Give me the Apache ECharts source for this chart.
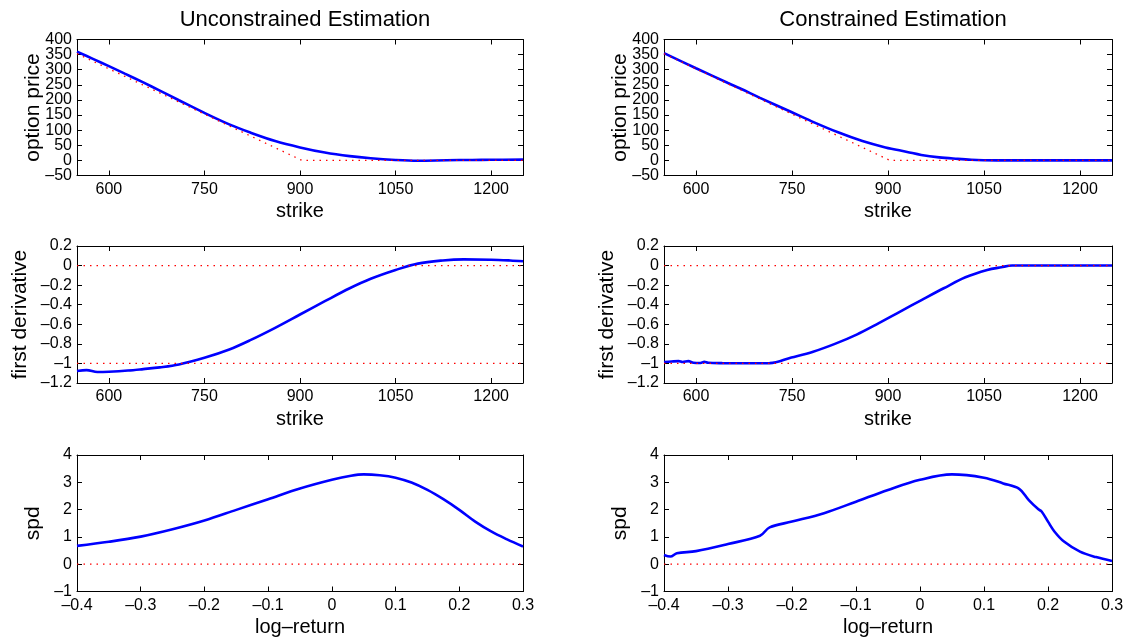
<!DOCTYPE html>
<html><head><meta charset="utf-8">
<script src="https://cdn.jsdelivr.net/npm/echarts@6/dist/echarts.min.js"></script>
<style>html,body{margin:0;padding:0;background:#fff}#c{width:1127px;height:643px}</style>
</head><body><div id="c"></div><script>
// ---------- data ----------
const titles = ['Unconstrained Estimation', 'Constrained Estimation'];
const strikeTicks = [600, 750, 900, 1050, 1200];
const priceTicks = [-50, 0, 50, 100, 150, 200, 250, 300, 350, 400];
const derivTicks = [-1.2, -1, -0.8, -0.6, -0.4, -0.2, 0, 0.2];
const spdTicks = [-1, 0, 1, 2, 3, 4];
const logRetTicks = [-0.4, -0.3, -0.2, -0.1, 0, 0.1, 0.2, 0.3];

// unconstrained option price
const priceUncK = [550, 575, 600, 625, 654, 680, 710, 750, 789, 822, 861, 900, 939, 978, 1011, 1050, 1085, 1130, 1170, 1200, 1250];
const priceUncV = [360, 336, 312, 287, 258, 231, 199, 157, 119, 92, 64, 43, 26, 14, 7, 1.5, -1, 0.5, 1.5, 2, 2.5];
// constrained option price
const priceConK = [550, 600, 650, 670, 700, 749, 780, 823, 860, 896, 930, 952, 980, 1009, 1030, 1049, 1070, 1100, 1250];
const priceConV = [355, 305, 256, 237, 207, 160, 130, 92, 64, 43, 28, 18, 10, 5, 2, 0.5, 0, 0, 0];
// intrinsic value (red dotted)
const intrinsicK = [550, 903, 1250];
const intrinsicV = [353, 0, 0];

// unconstrained first derivative
const derivUncK = [550, 565, 582, 600, 630, 654, 680, 710, 750, 789, 822, 861, 900, 939, 978, 1011, 1050, 1085, 1124, 1157, 1200, 1230, 1250];
const derivUncV = [-1.078, -1.068, -1.088, -1.085, -1.073, -1.058, -1.04, -1.01, -0.942, -0.857, -0.762, -0.636, -0.5, -0.364, -0.232, -0.135, -0.045, 0.02, 0.052, 0.063, 0.06, 0.052, 0.044];
// constrained first derivative
const derivConK = [550, 562, 573, 579, 588, 596, 607, 613, 619, 641, 680, 715, 749, 783, 817, 851, 885, 919, 953, 987, 1021, 1055, 1077, 1094, 1250];
const derivConV = [-0.986, -0.98, -0.976, -0.986, -0.976, -0.993, -0.996, -0.983, -0.993, -0.997, -0.998, -0.997, -0.94, -0.88, -0.80, -0.705, -0.59, -0.47, -0.35, -0.232, -0.12, -0.045, -0.017, 0, 0];
// bounds (red dotted)
const boundK = [550, 1250];
const boundUpper = [0, 0];
const boundLower = [-1, -1];

// unconstrained spd
const spdUncR = [-0.4, -0.35, -0.3, -0.25, -0.2, -0.15, -0.1, -0.05, 0, 0.03, 0.05, 0.075, 0.1, 0.125, 0.15, 0.175, 0.2, 0.225, 0.25, 0.275, 0.3];
const spdUncV = [0.67, 0.82, 1.01, 1.28, 1.60, 1.99, 2.38, 2.77, 3.09, 3.24, 3.29, 3.26, 3.17, 2.99, 2.72, 2.38, 1.99, 1.56, 1.20, 0.91, 0.65];
// constrained spd
const spdConR = [-0.4, -0.39, -0.38, -0.35, -0.3, -0.25, -0.235, -0.2, -0.15, -0.1, -0.05, 0, 0.05, 0.1, 0.13, 0.155, 0.17, 0.185, 0.19, 0.2, 0.21, 0.225, 0.25, 0.275, 0.3];
const spdConV = [0.34, 0.28, 0.40, 0.48, 0.74, 1.04, 1.35, 1.56, 1.87, 2.29, 2.72, 3.09, 3.29, 3.17, 2.96, 2.76, 2.35, 2.01, 1.93, 1.56, 1.20, 0.83, 0.46, 0.26, 0.12];
const spdZeroR = [-0.4, 0.3];
const spdZeroV = [0, 0];

// ---------- chart ----------
const zip = (a, b) => a.map((v, i) => [v, b[i]]);
const FONT = 'Liberation Sans, Arial, Helvetica, sans-serif';
const fmt = v => String(+(+v).toFixed(2)).replace('-', '\u2013');

const colLeft = [77, 664];
const colWidth = [446, 448];
const rowTop = [39.5, 246, 455];
const rowHeight = [136, 137, 136.5];

const panels = [];
panels.push({ row: 0, col: 0, xmin: 550, xmax: 1250, xt: strikeTicks, ymin: -50, ymax: 400, yt: priceTicks, xname: 'strike', yname: 'option price', ygap: 33,
  blue: zip(priceUncK, priceUncV), reds: [zip(intrinsicK, intrinsicV)] });
panels.push({ row: 0, col: 1, xmin: 550, xmax: 1250, xt: strikeTicks, ymin: -50, ymax: 400, yt: priceTicks, xname: 'strike', yname: 'option price', ygap: 33,
  blue: zip(priceConK, priceConV), reds: [zip(intrinsicK, intrinsicV)] });
panels.push({ row: 1, col: 0, xmin: 550, xmax: 1250, xt: strikeTicks, ymin: -1.2, ymax: 0.2, yt: derivTicks, xname: 'strike', yname: 'first derivative', ygap: 46,
  blue: zip(derivUncK, derivUncV), reds: [zip(boundK, boundUpper), zip(boundK, boundLower)] });
panels.push({ row: 1, col: 1, xmin: 550, xmax: 1250, xt: strikeTicks, ymin: -1.2, ymax: 0.2, yt: derivTicks, xname: 'strike', yname: 'first derivative', ygap: 46,
  blue: zip(derivConK, derivConV), reds: [zip(boundK, boundUpper), zip(boundK, boundLower)] });
panels.push({ row: 2, col: 0, xmin: -0.4, xmax: 0.3, xt: logRetTicks, ymin: -1, ymax: 4, yt: spdTicks, xname: 'log\u2013return', yname: 'spd', ygap: 33,
  blue: zip(spdUncR, spdUncV), reds: [zip(spdZeroR, spdZeroV)] });
panels.push({ row: 2, col: 1, xmin: -0.4, xmax: 0.3, xt: logRetTicks, ymin: -1, ymax: 4, yt: spdTicks, xname: 'log\u2013return', yname: 'spd', ygap: 33,
  blue: zip(spdConR, spdConV), reds: [zip(spdZeroR, spdZeroV)] });

const grid = [], xAxis = [], yAxis = [], series = [];
const lineBlack = { show: true, onZero: false, lineStyle: { color: '#000', width: 1 } };
panels.forEach((p, i) => {
  grid.push({ left: colLeft[p.col], top: rowTop[p.row], width: colWidth[p.col], height: rowHeight[p.row], show: false });
  const tickBase = { inside: true, length: 5, lineStyle: { color: '#000', width: 1 } };
  const lab = { formatter: fmt, color: '#000', fontSize: 16, fontFamily: FONT, showMinLabel: true, showMaxLabel: true };
  xAxis.push({ gridIndex: i, type: 'value', position: 'bottom', min: p.xmin, max: p.xmax,
    axisLine: lineBlack, axisTick: Object.assign({ customValues: p.xt }, tickBase),
    axisLabel: Object.assign({ customValues: p.xt, margin: 6 }, lab),
    splitLine: { show: false }, nameMoveOverlap: false,
    name: p.xname, nameLocation: 'middle', nameGap: 26, nameTextStyle: { color: '#000', fontSize: 20, fontFamily: FONT } });
  xAxis.push({ gridIndex: i, type: 'value', position: 'top', min: p.xmin, max: p.xmax,
    axisLine: lineBlack, axisTick: Object.assign({ customValues: p.xt }, tickBase),
    axisLabel: { show: false }, splitLine: { show: false } });
  // labels split between two left axes so that tightly spaced labels are not dropped
  const evenT = p.yt.filter((_, k) => k % 2 === 0);
  const oddT = p.yt.filter((_, k) => k % 2 === 1);
  yAxis.push({ gridIndex: i, type: 'value', position: 'left', min: p.ymin, max: p.ymax,
    axisLine: lineBlack, axisTick: Object.assign({ customValues: p.yt }, tickBase),
    axisLabel: Object.assign({ customValues: evenT, margin: 5 }, lab),
    splitLine: { show: false }, nameMoveOverlap: false,
    name: p.yname, nameLocation: 'middle', nameRotate: 90, nameGap: p.ygap, nameTextStyle: { color: '#000', fontSize: 21, fontFamily: FONT } });
  yAxis.push({ gridIndex: i, type: 'value', position: 'right', min: p.ymin, max: p.ymax,
    axisLine: lineBlack, axisTick: Object.assign({ customValues: p.yt }, tickBase),
    axisLabel: { show: false }, splitLine: { show: false } });
  yAxis.push({ gridIndex: i, type: 'value', position: 'left', min: p.ymin, max: p.ymax,
    axisLine: { show: false }, axisTick: { show: false },
    axisLabel: Object.assign({ customValues: oddT, margin: 5 }, lab),
    splitLine: { show: false } });
  series.push({ type: 'line', xAxisIndex: 2 * i, yAxisIndex: 3 * i, data: p.blue, showSymbol: false,
    smooth: 0.35, lineStyle: { color: '#0000ff', width: 2.6 }, z: 2, silent: true });
  p.reds.forEach(r => series.push({ type: 'line', xAxisIndex: 2 * i, yAxisIndex: 3 * i, data: r, showSymbol: false,
    lineStyle: { color: '#ff0000', width: 1.3, type: [1.5, 5] }, z: 3, silent: true }));
});

const title = titles.map((t, c) => ({ text: t, left: colLeft[c] + colWidth[c] / 2, top: 4, textAlign: 'center',
  textStyle: { color: '#000', fontSize: 22, fontWeight: 'normal', fontFamily: FONT } }));

const chart = echarts.init(document.getElementById('c'), null, { renderer: 'canvas' });
chart.setOption({ animation: false, backgroundColor: '#fff', title, grid, xAxis, yAxis, series });
</script></body></html>
